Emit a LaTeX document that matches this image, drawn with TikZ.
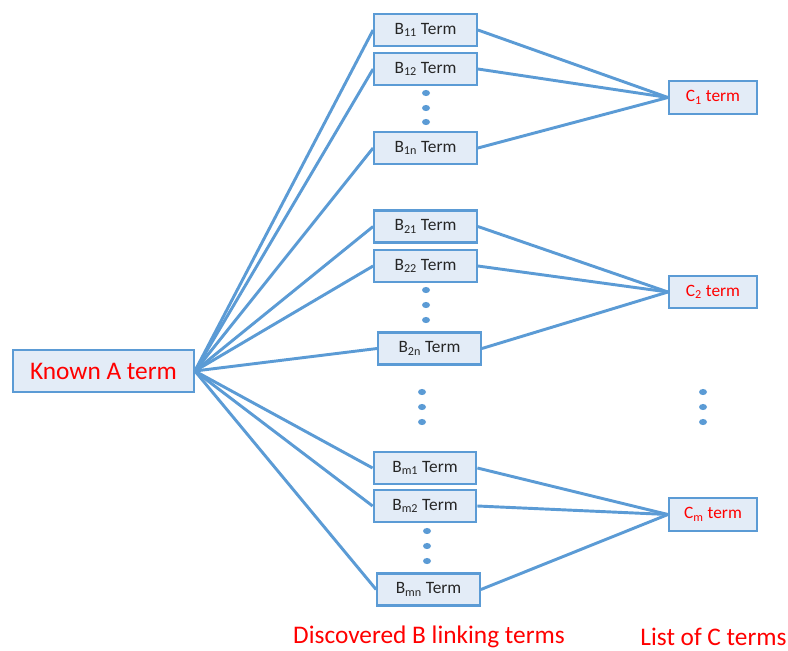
\documentclass[tikz,border=0pt]{standalone}
\usepackage{fontspec}
\setmainfont{Carlito}
\usetikzlibrary{backgrounds}
\definecolor{lineblue}{HTML}{5B9BD5}
\definecolor{boxfill}{HTML}{E3ECF7}
\definecolor{txtred}{HTML}{FF0000}
\definecolor{txtdark}{HTML}{262626}
\newcommand{\lsb}[1]{\textsubscript{#1}}
\tikzset{
  bbox/.style={draw=lineblue, fill=boxfill, line width=1.6pt, minimum width=77pt, minimum height=24pt, inner sep=0pt, text=txtdark, font=\fontsize{13}{15}\selectfont},
  cbox/.style={bbox, minimum width=66pt, minimum height=24.5pt, text=txtred},
  abox/.style={bbox, minimum width=135.5pt, minimum height=31.5pt, text=txtred, font=\fontsize{19}{22}\selectfont},
  conn/.style={draw=lineblue, line width=2.2pt},
  lbl/.style={text=txtred, font=\fontsize{19}{22}\selectfont, inner sep=0pt},
  dotmark/.style={fill=lineblue}
}
\begin{document}
\begin{tikzpicture}[x=0.75pt,y=-0.75pt]
\useasboundingbox (0,0) rectangle (788,650);
\node[abox] (A) at (103.5,371) {Known A term};
\node[bbox] (B11) at (425.5,30) {B\lsb{11} Term};
\node[bbox] (B12) at (425.5,69) {B\lsb{12} Term};
\node[bbox] (B1n) at (425.5,148) {B\lsb{1n} Term};
\node[bbox] (B21) at (425.5,226.5) {B\lsb{21} Term};
\node[bbox] (B22) at (425.5,266) {B\lsb{22} Term};
\node[bbox] (B2n) at (429.5,348.5) {B\lsb{2n} Term};
\node[bbox] (Bm1) at (425,468) {B\lsb{m1} Term};
\node[bbox] (Bm2) at (425,506) {B\lsb{m2} Term};
\node[bbox] (Bmn) at (428.5,589.5) {B\lsb{mn} Term};
\node[cbox] (C1) at (713,97.5) {C\lsb{1} term};
\node[cbox] (C2) at (713,292) {C\lsb{2} term};
\node[cbox] (Cm) at (713,514.5) {C\lsb{m} term};
\begin{pgfonlayer}{background}
\foreach \b in {B11,B12,B1n,B21,B22,B2n,Bm1,Bm2,Bmn}{
  \draw[conn] (A.east) -- (\b.west);
}
\foreach \b in {B11,B12,B1n}{ \draw[conn] (\b.east) -- (C1.west); }
\foreach \b in {B21,B22,B2n}{ \draw[conn] (\b.east) -- (C2.west); }
\foreach \b in {Bm1,Bm2,Bmn}{ \draw[conn] (\b.east) -- (Cm.west); }
\end{pgfonlayer}
% dots
\foreach \x/\y in {426/93,426/108,426/122,426/290,426/305,426/320,427/531,427/546,427/561,422/392,422/407,422/422,703/392,703/407,703/422}{
  \fill[dotmark] (\x,\y) ellipse [x radius=3pt, y radius=2.3pt];
}
\node[lbl] (L1) at (429,637) {Discovered B linking terms};
\node[lbl] (L2) at (713.5,637) {List of C terms};
\end{tikzpicture}
\end{document}
